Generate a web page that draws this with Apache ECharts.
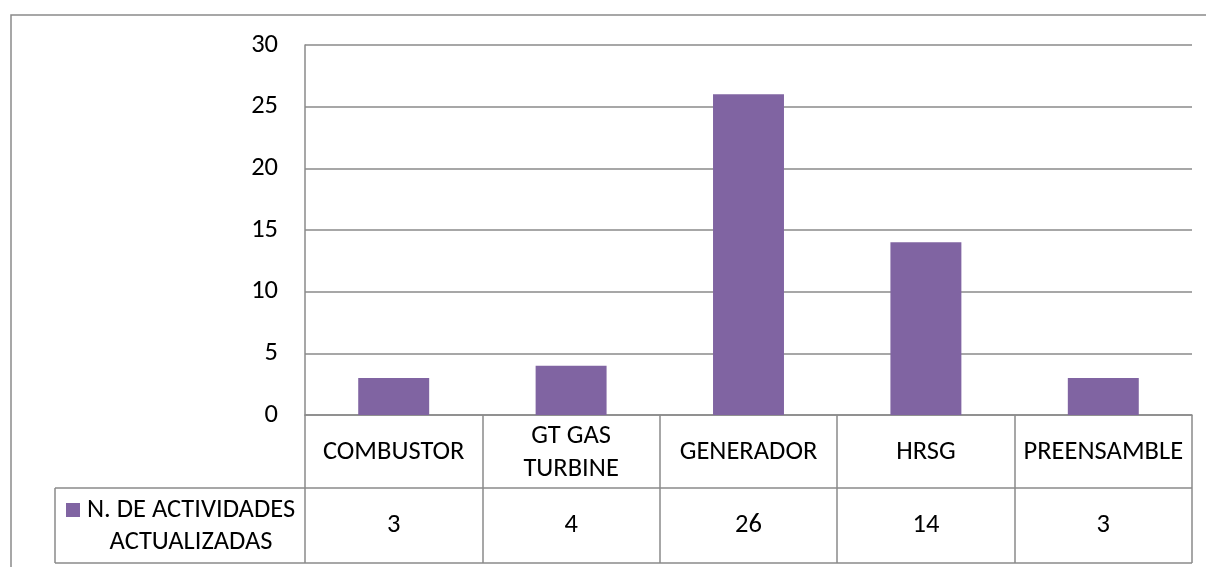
<!DOCTYPE html>
<html>
<head>
<meta charset="utf-8">
<script src="https://cdn.jsdelivr.net/npm/echarts@6/dist/echarts.min.js"></script>
<style>
html,body{margin:0;padding:0;background:#fff;}
#c{width:1206px;height:567px;}
</style>
</head>
<body>
<div id="c"></div>
<script>
const categories = ['COMBUSTOR', 'GT GAS\nTURBINE', 'GENERADOR', 'HRSG', 'PREENSAMBLE'];
const values = [3, 4, 26, 14, 3];
const seriesName = 'N. DE ACTIVIDADES\nACTUALIZADAS';
const yTicks = { min: 0, max: 30, interval: 5 };

const FONT = 'Carlito, Lato, sans-serif';
const FS = 26.5;
const LINE = '#8a8a8a';
const LW = 1.5;
const BAR = '#8064A2';
const TXT = '#000';

const gridL = 305, gridR = 1192, gridT = 45, gridB = 415;
const row1B = 488, row2B = 563, legL = 55;

const chart = echarts.init(document.getElementById('c'), null, { renderer: 'canvas' });
chart.setOption({
  animation: false,
  backgroundColor: '#fff',
  grid: { left: gridL, right: 1206 - gridR, top: gridT, bottom: 567 - gridB, containLabel: false },
  xAxis: [
    {
      type: 'category', data: categories, position: 'bottom',
      axisLine: { show: true, lineStyle: { color: LINE, width: LW } },
      axisTick: { show: true, length: row2B - gridB, lineStyle: { color: LINE, width: LW } },
      axisLabel: { color: TXT, fontFamily: FONT, fontSize: FS, lineHeight: 33, margin: (row1B - gridB) / 2 + 1, verticalAlign: 'middle', interval: 0 }
    },
    {
      type: 'category', data: values.map(String), position: 'bottom',
      axisLine: { show: false }, axisTick: { show: false },
      axisLabel: { color: TXT, fontFamily: FONT, fontSize: FS, margin: (row1B - gridB) + (row2B - row1B) / 2, verticalAlign: 'middle', interval: 0 }
    }
  ],
  yAxis: {
    type: 'value', min: yTicks.min, max: yTicks.max, interval: yTicks.interval,
    axisLine: { show: true, lineStyle: { color: LINE, width: LW } },
    axisTick: { show: false },
    splitLine: { show: true, lineStyle: { color: LINE, width: LW } },
    axisLabel: { color: TXT, fontFamily: FONT, fontSize: FS, margin: 27 }
  },
  series: [{
    name: seriesName, type: 'bar', data: values, xAxisIndex: 0,
    barCategoryGap: '60%', itemStyle: { color: BAR }
  }],
  graphic: [
    { type: 'rect', shape: { x: 11, y: 15, width: 1300, height: 700 }, style: { fill: null, stroke: LINE, lineWidth: LW }, silent: true, z: -1 },
    { type: 'line', shape: { x1: legL, y1: row1B, x2: gridR, y2: row1B }, style: { stroke: LINE, lineWidth: LW } },
    { type: 'line', shape: { x1: legL, y1: row2B, x2: gridR, y2: row2B }, style: { stroke: LINE, lineWidth: LW } },
    { type: 'line', shape: { x1: legL, y1: row1B, x2: legL, y2: row2B }, style: { stroke: LINE, lineWidth: LW } },
    { type: 'rect', shape: { x: 66, y: 503, width: 14, height: 14 }, style: { fill: BAR } },
    { type: 'text', x: 191, y: (row1B + row2B) / 2 + 1, style: { text: seriesName, fill: TXT, font: FS + 'px ' + FONT, textAlign: 'center', textVerticalAlign: 'middle', lineHeight: 32 } }
  ]
});
</script>
</body>
</html>
